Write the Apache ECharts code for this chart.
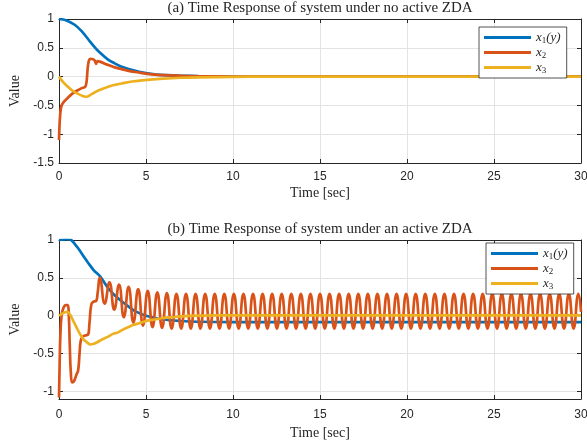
<!DOCTYPE html>
<html>
<head>
<meta charset="utf-8">
<script src="https://cdn.jsdelivr.net/npm/echarts/dist/echarts.min.js"></script>
<style>
  html, body { margin: 0; padding: 0; background: #fff; }
  #main { width: 587px; height: 447px; }
</style>
</head>
<body>
<div id="main"></div>
<script>
// data, [time (s), value]

// (a) no active ZDA
const x1a = [[0,1],[0.4,0.98],[0.9,0.9],[1.3,0.79],[1.7,0.64],[2.0,0.53],[2.3,0.43],[2.8,0.3],[3.2,0.23],
  [3.6,0.17],[4.0,0.13],[4.6,0.085],[5.5,0.04],[6.2,0.025],[7,0.015],[8,0.008],[9,0.004],[10,0.002],[11,0],[30,0]];
const x2a = [[0,-1.1],[0.03,-0.85],[0.08,-0.62],[0.15,-0.5],[0.3,-0.43],[0.5,-0.37],[0.75,-0.3],[1.0,-0.25],
  [1.3,-0.2],[1.5,-0.18],[1.58,-0.1],[1.65,0.15],[1.72,0.28],[1.8,0.31],[1.95,0.3],[2.05,0.28],[2.13,0.22],
  [2.2,0.27],[2.35,0.26],[2.84,0.2],[3.2,0.16],[3.6,0.13],[4.0,0.1],[4.5,0.075],[5.5,0.035],[7,0.013],
  [8,0.006],[10,0.001],[12,0],[30,0]];
const x3a = [[0,0],[0.25,-0.1],[0.53,-0.18],[0.8,-0.25],[1.1,-0.3],[1.4,-0.34],[1.6,-0.35],[1.9,-0.3],
  [2.26,-0.24],[2.7,-0.19],[3.1,-0.15],[3.6,-0.12],[4.2,-0.085],[4.9,-0.06],[6,-0.035],[7,-0.02],
  [8,-0.012],[10,-0.004],[12,0],[30,0]];

// (b) active ZDA
const x1b = [[0,1],[0.5,1.01],[0.7,1.0],[0.9,0.95],[1.1,0.89],[1.4,0.79],[1.7,0.69],[2.0,0.6],[2.36,0.52],
  [2.84,0.36],[3.2,0.27],[3.6,0.19],[4.0,0.12],[4.37,0.06],[5.0,0.0],[6.0,-0.05],[7,-0.07],[8,-0.08],
  [10,-0.085],[30,-0.085]];
const x2b = [[0,-1.08],[0.04,-0.6],[0.08,-0.25],[0.15,0.0],[0.25,0.1],[0.4,0.14],[0.5,0.14],[0.56,0.02],
  [0.62,-0.4],[0.68,-0.75],[0.76,-0.88],[0.85,-0.87],[1.0,-0.78],[1.1,-0.72],[1.18,-0.5],[1.25,-0.33],
  [1.35,-0.28],[1.5,-0.26],[1.67,-0.25],[1.75,-0.1],[1.85,0.14],[1.95,0.18],[2.15,0.2],[2.22,0.3],
  [2.35,0.5],[2.625,0.16],[2.9,0.44],[3.175,0.08],[3.45,0.41],[3.725,-0.02],[4.0,0.38],[4.275,-0.09],
  [4.55,0.35],[4.825,-0.13],[5.1,0.33],[5.375,-0.15],[5.65,0.31],[5.925,-0.16],[6.2,0.3],[6.475,-0.17],
  [6.75,0.29],[7.025,-0.17],[7.3,0.29],[7.575,-0.17],[7.85,0.29],[8.125,-0.17],[8.4,0.29],[8.675,-0.17],
  [8.95,0.29],[9.225,-0.17],[9.5,0.29],[9.775,-0.17],[10.05,0.29],[10.325,-0.17],[10.6,0.29],[10.875,-0.17],
  [11.15,0.29],[11.425,-0.17],[11.7,0.29],[11.975,-0.17],[12.25,0.29],[12.525,-0.17],[12.8,0.29],[13.075,-0.17],
  [13.35,0.29],[13.625,-0.17],[13.9,0.29],[14.175,-0.17],[14.45,0.29],[14.725,-0.17],[15.0,0.29],[15.275,-0.17],
  [15.55,0.29],[15.825,-0.17],[16.1,0.29],[16.375,-0.17],[16.65,0.29],[16.925,-0.17],[17.2,0.29],[17.475,-0.17],
  [17.75,0.29],[18.025,-0.17],[18.3,0.29],[18.575,-0.17],[18.85,0.29],[19.125,-0.17],[19.4,0.29],[19.675,-0.17],
  [19.95,0.29],[20.225,-0.17],[20.5,0.29],[20.775,-0.17],[21.05,0.29],[21.325,-0.17],[21.6,0.29],[21.875,-0.17],
  [22.15,0.29],[22.425,-0.17],[22.7,0.29],[22.975,-0.17],[23.25,0.29],[23.525,-0.17],[23.8,0.29],[24.075,-0.17],
  [24.35,0.29],[24.625,-0.17],[24.9,0.29],[25.175,-0.17],[25.45,0.29],[25.725,-0.17],[26.0,0.29],[26.275,-0.17],
  [26.55,0.29],[26.825,-0.17],[27.1,0.29],[27.375,-0.17],[27.65,0.29],[27.925,-0.17],[28.2,0.29],[28.475,-0.17],
  [28.75,0.29],[29.025,-0.17],[29.3,0.29],[29.575,-0.17],[29.85,0.29],[30,0.05]];
const x3b = [[0,0],[0.2,0.03],[0.45,0.05],[0.6,0.03],[0.8,-0.06],[1.0,-0.15],[1.2,-0.24],[1.4,-0.31],
  [1.6,-0.35],[1.8,-0.38],[2.0,-0.37],[2.2,-0.35],[2.5,-0.31],[2.8,-0.28],[3.1,-0.24],[3.4,-0.22],[3.7,-0.18],
  [4.0,-0.15],[4.3,-0.12],[4.6,-0.1],[5.0,-0.07],[5.5,-0.05],[6,-0.03],[6.5,-0.02],[7,-0.01],[8,0.0],
  [9,0.005],[30,0.005]];

const seriesNames = ['x1(y)', 'x2', 'x3'];
const colors = ['#0072BD', '#D95319', '#EDB120'];
const titles = ['(a) Time Response of system under no active ZDA', '(b) Time Response of system under an active ZDA'];

const ink = '#262626';
const serif = 'Liberation Serif';
const sans = 'Liberation Sans';

// legend labels, italic x with subscripts
const legendText = { 'x1(y)': '{i|x}{s|1}{i|(y)}', 'x2': '{i|x}{s|2}', 'x3': '{i|x}{s|3}' };

function mainX(gi, gap, margin) {
  return {
    type: 'value', gridIndex: gi, min: 0, max: 30, interval: 5, position: 'bottom',
    axisLine: { show: true, onZero: false, lineStyle: { color: ink, width: 1 } },
    axisTick: { inside: true, length: 4, lineStyle: { color: ink } },
    axisLabel: { color: ink, fontFamily: sans, fontSize: 12, margin: margin },
    splitLine: { show: true, lineStyle: { color: '#e3e3e3', width: 1 } },
    name: 'Time [sec]', nameLocation: 'middle', nameGap: gap,
    nameTextStyle: { fontFamily: serif, fontSize: 14, color: ink }
  };
}
function boxX(gi) {
  return {
    type: 'value', gridIndex: gi, min: 0, max: 30, interval: 5, position: 'top',
    axisLine: { show: true, onZero: false, lineStyle: { color: ink, width: 1 } },
    axisTick: { inside: true, length: 4, lineStyle: { color: ink } },
    axisLabel: { show: false }, splitLine: { show: false }
  };
}
function mainY(gi, extra) {
  return Object.assign({
    type: 'value', gridIndex: gi, position: 'left',
    axisLine: { show: true, onZero: false, lineStyle: { color: ink, width: 1 } },
    axisTick: { inside: true, length: 4, lineStyle: { color: ink } },
    axisLabel: { color: ink, fontFamily: sans, fontSize: 12, margin: 5, showMinLabel: gi === 0 },
    splitLine: { show: true, lineStyle: { color: '#e3e3e3', width: 1 } },
    name: 'Value', nameLocation: 'middle', nameGap: 35,
    nameTextStyle: { fontFamily: serif, fontSize: 14, color: ink }
  }, extra);
}
function boxY(gi, extra) {
  return Object.assign({
    type: 'value', gridIndex: gi, position: 'right',
    axisLine: { show: true, onZero: false, lineStyle: { color: ink, width: 1 } },
    axisTick: { inside: true, length: 4, lineStyle: { color: ink } },
    axisLabel: { show: false }, splitLine: { show: false }
  }, extra);
}
function legend(left, top) {
  return {
    data: seriesNames, orient: 'vertical', left: left, top: top,
    padding: [4, 6, 3, 5], itemWidth: 47, itemHeight: 3, itemGap: 1, icon: 'rect',
    backgroundColor: '#fff', borderColor: ink, borderWidth: 0.8, borderRadius: 0,
    selectedMode: false,
    formatter: function (n) { return legendText[n]; },
    textStyle: {
      color: ink,
      rich: {
        i: { fontFamily: serif, fontStyle: 'italic', fontSize: 13, lineHeight: 15, color: ink },
        s: { fontFamily: serif, fontSize: 9, lineHeight: 9, verticalAlign: 'bottom', color: ink }
      }
    }
  };
}
function line(name, data, idx, smooth) {
  const c = colors[seriesNames.indexOf(name)];
  return {
    type: 'line', name: name, data: data, xAxisIndex: idx, yAxisIndex: idx,
    showSymbol: false, symbol: 'none', smooth: smooth,
    lineStyle: { color: c, width: 2.7 }, itemStyle: { color: c }
  };
}

const chart = echarts.init(document.getElementById('main'));
chart.setOption({
  animation: false,
  backgroundColor: '#fff',
  title: titles.map(function (t, i) {
    return {
      text: t, left: 320, top: i === 0 ? 1 : 222, textAlign: 'center', padding: 0,
      textStyle: { fontFamily: serif, fontSize: 15, fontWeight: 'normal', color: ink }
    };
  }),
  grid: [
    { left: 59, top: 19, right: 6, height: 144, outerBoundsMode: 'none' },
    { left: 59, top: 240, right: 6, height: 159, outerBoundsMode: 'none' }
  ],
  xAxis: [mainX(0, 23, 8), mainX(1, 27, 10), boxX(0), boxX(1)],
  yAxis: [
    mainY(0, { min: -1.5, max: 1, interval: 0.5 }),
    mainY(1, { min: -1.1, max: 1, splitNumber: 4 }),
    boxY(0, { min: -1.5, max: 1, interval: 0.5 }),
    boxY(1, { min: -1.1, max: 1, splitNumber: 4 })
  ],
  legend: [legend(479, 27), legend(486, 243)],
  series: [
    line('x1(y)', x1a, 0, 0.3), line('x2', x2a, 0, 0.3), line('x3', x3a, 0, 0.3),
    line('x1(y)', x1b, 1, 0.3), line('x2', x2b, 1, 0.5), line('x3', x3b, 1, 0.3)
  ]
});
</script>
</body>
</html>
